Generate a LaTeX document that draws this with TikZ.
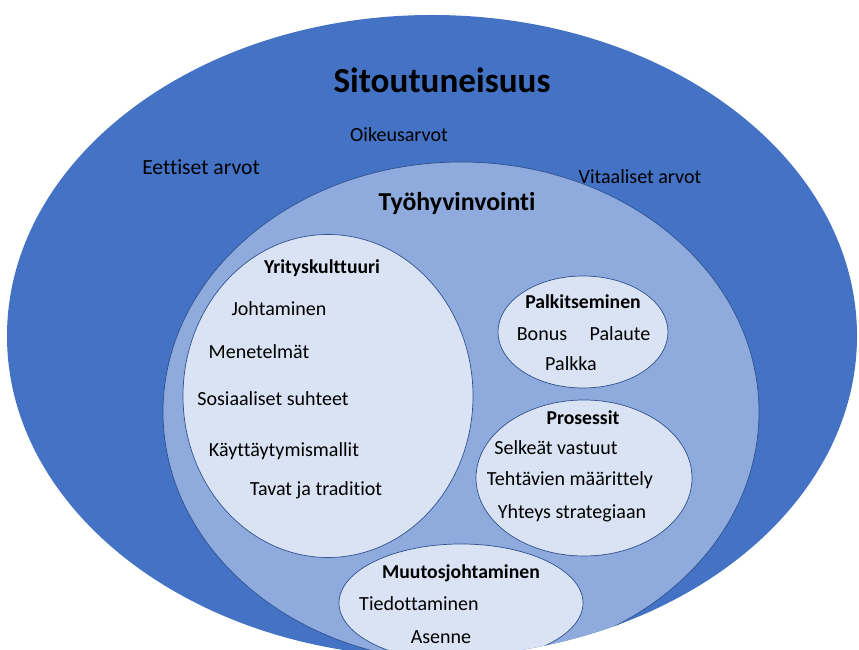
\documentclass[tikz,border=0pt]{standalone}
\usepackage{fontspec}
\setmainfont{Carlito}[Ligatures={NoCommon}]
\usepackage{tikz}
\definecolor{outerblue}{HTML}{4472C4}
\definecolor{midblue}{HTML}{8FAADC}
\definecolor{paleblue}{HTML}{DAE3F3}
\definecolor{rimblue}{HTML}{2F528F}

\begin{document}
\begin{tikzpicture}[
  rim/.style = {draw=rimblue, line width=.4pt},
  item/.style = {inner sep=1pt, font=\fontsize{11.4}{13}\selectfont},
  head/.style = {inner sep=1pt, font=\fontsize{11.2}{13}\selectfont\bfseries}]
\useasboundingbox (0,0) rectangle (17.18,13);
\clip (0,0) rectangle (17.18,13);
\fill[outerblue] (8.64,6.28) ellipse (8.5 and 6.42);
\begin{scope}
\clip (8.64,6.28) ellipse (8.5 and 6.42);
\draw[fill = midblue, rim] (9.22,4.76) ellipse (5.96 and 5.0);
\draw[fill = paleblue, rim] (6.56,5.08) ellipse (2.9 and 3.23);
\draw[fill = paleblue, rim] (11.66,6.36) ellipse (1.7 and 1.12);
\draw[fill = paleblue, rim] (11.68,3.44) ellipse (2.16 and 1.56);
\draw[fill = paleblue, rim] (9.22,0.94) ellipse (2.44 and 1.18);
\end{scope}
\node[inner sep=1pt, font=\fontsize{20}{24}\selectfont\bfseries] (sit) at (8.84,11.40) {Sitoutuneisuus};
\node[item] (oik) at (7.98,10.30) {Oikeusarvot};
\node[item, font=\fontsize{12.3}{14}\selectfont] (eet) at (4.02,9.66) {Eettiset arvot};
\node[item] (vit) at (12.80,9.46) {Vitaaliset arvot};
\node[inner sep=1pt, font=\fontsize{14.7}{17}\selectfont\bfseries] (tyo) at (9.14,8.94) {Työhyvinvointi};
\node[head] (yri) at (6.44,7.64) {Yrityskulttuuri};
\node[item] (joh) at (5.58,6.82) {Johtaminen};
\node[item] (men) at (5.18,5.96) {Menetelmät};
\node[item] (sos) at (5.46,5.02) {Sosiaaliset suhteet};
\node[item] (kay) at (5.68,3.98) {Käyttäytymismallit};
\node[item] (tav) at (6.32,3.20) {Tavat ja traditiot};
\node[head] (pal) at (11.66,6.96) {Palkitseminen};
\node[item] (bon) at (10.84,6.32) {Bonus};
\node[item] (plt) at (12.40,6.32) {Palaute};
\node[item] (pka) at (11.42,5.72) {Palkka};
\node[head] (pro) at (11.66,4.64) {Prosessit};
\node[item] (sel) at (11.12,4.04) {Selkeät vastuut};
\node[item] (teh) at (11.40,3.40) {Tehtävien määrittely};
\node[item] (yht) at (11.44,2.74) {Yhteys strategiaan};
\node[head] (muu) at (9.22,1.54) {Muutosjohtaminen};
\node[item] (tie) at (8.38,0.92) {Tiedottaminen};
\node[item] (ase) at (8.82,0.26) {Asenne};
\end{tikzpicture}
\end{document}
